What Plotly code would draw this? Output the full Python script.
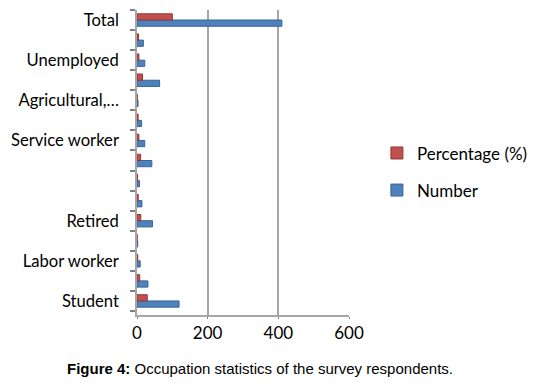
import plotly.graph_objects as go

# 15 rows bottom -> top
tick_labels = ["Student", "", "Labor worker", "", "Retired", "", "", "",
               "Service worker", "", "Agricultural,…", "", "Unemployed", "", "Total"]
number = [119, 31, 9, 2, 44, 14, 7, 42, 22, 13, 3, 64, 22, 18, 410]
percentage = [29.0, 7.6, 2.2, 0.5, 10.7, 3.4, 1.7, 10.2, 5.4, 3.2, 0.7, 15.6, 5.4, 4.4, 100]
series_names = ["Percentage (%)", "Number"]
x_ticks = [0, 200, 400, 600]

rows = list(range(len(tick_labels)))

fig = go.Figure()
fig.add_trace(go.Bar(y=rows, x=number, orientation="h", name=series_names[1], legendgroup="n",
                     legendrank=2,
                     marker=dict(color="#4F81BD", line=dict(color="#3A6595", width=1))))
fig.add_trace(go.Bar(y=rows, x=percentage, orientation="h", name=series_names[0], legendgroup="p",
                     legendrank=1,
                     marker=dict(color="#C0504D", line=dict(color="#953735", width=1))))

fig.update_layout(
    width=537, height=383,
    margin=dict(l=129, r=196, t=2, b=76),
    paper_bgcolor="white", plot_bgcolor="white",
    barmode="group", bargap=0.38, bargroupgap=0,
    font=dict(family="Lato, Open Sans, sans-serif", size=16.6, color="black"),
    showlegend=True,
    legend=dict(xref="container", yref="container", x=0.687, y=0.572, xanchor="left", yanchor="middle",
                traceorder="grouped",
                font=dict(size=17), itemwidth=30, tracegroupgap=12, bgcolor="rgba(0,0,0,0)"),
    xaxis=dict(range=[0, 600], tickvals=x_ticks, showgrid=True, gridcolor="#A6A6A6", gridwidth=1.5,
               zeroline=False, showline=True, linecolor="#A6A6A6", linewidth=1.5, automargin=False,
               ticks="outside", ticklen=2, tickcolor="#7F7F7F", tickfont=dict(size=17)),
    yaxis=dict(range=[-0.7, 14.5], tickvals=rows, ticktext=tick_labels, ticks="",
               showline=True, linecolor="#A6A6A6", linewidth=1.5, showgrid=False, zeroline=False,
               ticklabelstandoff=13, automargin=False,
               minor=dict(tickvals=[r + 0.5 for r in rows[:-1]] + [-0.5, 14.5], ticks="outside",
                          ticklen=5, tickcolor="#7F7F7F", tickwidth=1.5)),
)

fig.add_annotation(xref="paper", yref="paper", x=0.58, y=-0.174, xanchor="center", yanchor="middle",
                   showarrow=False,
                   text="<b>Figure 4:</b> Occupation statistics of the survey respondents.",
                   font=dict(family="Liberation Sans, Arial, sans-serif", size=15, color="black"))

fig.write_html("out.html")
